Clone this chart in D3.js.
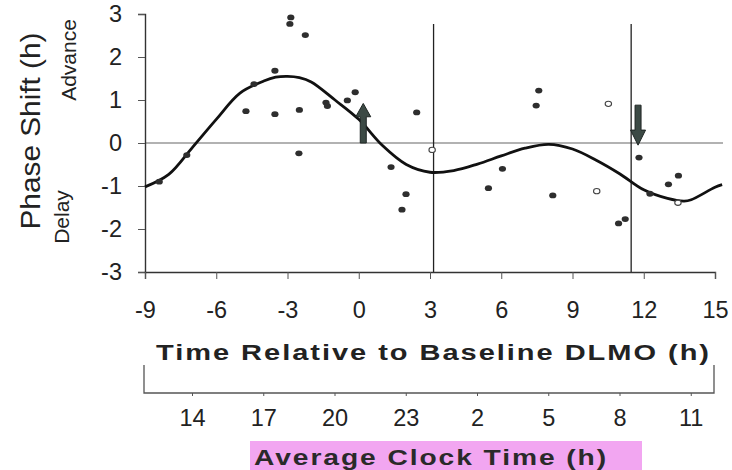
<!DOCTYPE html>
<html>
<head>
<meta charset="utf-8">
<script src="https://cdn.jsdelivr.net/npm/d3@7/dist/d3.min.js"></script>
<style>
  body { margin: 0; background: #fff; }
  svg { display: block; font-family: "Liberation Sans", Arial, sans-serif; }
</style>
</head>
<body>
<div id="chart"></div>
<script>
// data
const filledPts = [
  [-8.40, -0.90], [-7.24, -0.28], [-4.75, 0.74], [-4.41, 1.37], [-3.53, 1.68],
  [-3.53, 0.67], [-2.86, 2.92], [-2.90, 2.77], [-2.25, 2.51], [-2.50, 0.77],
  [-2.52, -0.24], [-1.38, 0.94], [-1.32, 0.86], [-0.48, 0.99], [-0.15, 1.18],
  [1.36, -0.56], [1.82, -1.55], [1.99, -1.19], [2.44, 0.71], [5.46, -1.05],
  [6.05, -0.60], [7.47, 0.87], [7.58, 1.22], [8.17, -1.22], [10.94, -1.87],
  [11.22, -1.77], [11.80, -0.34], [12.26, -1.18], [13.04, -0.96], [13.46, -0.76]
]
const openPts = [[3.09, -0.16], [10.02, -1.12], [10.51, 0.91], [13.44, -1.39]]

const curveX = [-9, -8, -7, -6, -5, -4, -3.5, -3, -2.5, -2, -1, 0, 1, 2, 3, 4, 5, 6, 7, 8, 9, 10, 11, 12, 13, 13.7, 14, 15, 15.3]
const curveY = [-1.02, -0.73, -0.10, 0.55, 1.16, 1.44, 1.53, 1.55, 1.52, 1.42, 1.00, 0.55, -0.06, -0.50, -0.68, -0.64,
  -0.49, -0.30, -0.12, -0.03, -0.14, -0.40, -0.72, -1.09, -1.29, -1.35, -1.32, -1.03, -0.97]

const xTicks = [-9, -6, -3, 0, 3, 6, 9, 12, 15]
const yTicks = [-3, -2, -1, 0, 1, 2, 3]
const clockRel = [-7, -4, -1, 2, 5, 8, 11, 14]
const clockLabels = [14, 17, 20, 23, 2, 5, 8, 11]
const markerLines = [3.15, 11.47]
// arrows: [x, tail y, head base y, tip y]
const arrows = [[0.19, 0, 0.61, 0.92], [11.76, 0.88, 0.30, -0.05]]

const W = 732, H = 470
const FONT = '"Liberation Sans", Arial, sans-serif'

const svg = d3.select('#chart').append('svg')
  .attr('width', W)
  .attr('height', H)

const x = d3.scaleLinear().domain([-9, 15]).range([145, 715])
const y = d3.scaleLinear().domain([-3, 3]).range([272, 14])

// zero line
svg.append('line')
  .attr('x1', x(-9)).attr('x2', 723)
  .attr('y1', y(0)).attr('y2', y(0))
  .attr('stroke', '#999').attr('stroke-width', 1.4)

// vertical marker lines
markerLines.forEach(v => {
  svg.append('line')
    .attr('x1', x(v)).attr('x2', x(v))
    .attr('y1', 24).attr('y2', y(-3))
    .attr('stroke', '#222').attr('stroke-width', 1.3)
})

// y axis
const yAxis = svg.append('g')
  .attr('transform', `translate(${x(-9)},0)`)
  .call(d3.axisLeft(y).tickValues(yTicks).tickSize(7).tickPadding(16).tickFormat(d => String(d)))
yAxis.select('.domain').attr('stroke', '#333').attr('stroke-width', 1.4)
yAxis.selectAll('.tick line').attr('stroke', '#555')
yAxis.selectAll('.tick text')
  .attr('font-size', 23.5).attr('fill', '#222')
  .attr('font-family', FONT)

// x axis
const xAxis = svg.append('g')
  .attr('transform', `translate(0,${y(-3)})`)
  .call(d3.axisBottom(x).tickValues(xTicks).tickSize(7).tickPadding(22).tickFormat(d => String(d)))
xAxis.select('.domain').attr('stroke', '#333').attr('stroke-width', 1.4)
xAxis.selectAll('.tick line').attr('stroke', '#555')
xAxis.selectAll('.tick text')
  .attr('font-size', 23.5).attr('fill', '#222')
  .attr('font-family', FONT)

// fitted curve
const line = d3.line()
  .x((d, i) => x(curveX[i]))
  .y(d => y(d))
  .curve(d3.curveCatmullRom.alpha(0.5))

svg.append('path')
  .datum(curveY)
  .attr('d', line)
  .attr('fill', 'none')
  .attr('stroke', '#111')
  .attr('stroke-width', 2.8)

// data points
svg.selectAll('.dot')
  .data(filledPts)
  .enter()
  .append('ellipse')
  .attr('class', 'dot')
  .attr('cx', d => x(d[0]))
  .attr('cy', d => y(d[1]))
  .attr('rx', 3.6).attr('ry', 2.9)
  .attr('fill', '#2e2e2e')

svg.selectAll('.open')
  .data(openPts)
  .enter()
  .append('ellipse')
  .attr('class', 'open')
  .attr('cx', d => x(d[0]))
  .attr('cy', d => y(d[1]))
  .attr('rx', 3.2).attr('ry', 2.6)
  .attr('fill', '#fff')
  .attr('stroke', '#444').attr('stroke-width', 1.1)

// arrows
arrows.forEach(a => {
  const cx = x(a[0])
  const sw = 3, hw = 7.5
  const pts = [
    [cx - sw, y(a[1])], [cx - sw, y(a[2])], [cx - hw, y(a[2])], [cx, y(a[3])],
    [cx + hw, y(a[2])], [cx + sw, y(a[2])], [cx + sw, y(a[1])]
  ]
  svg.append('path')
    .attr('d', d3.line()(pts) + 'Z')
    .attr('fill', '#3c4a45')
    .attr('stroke', '#1f2624').attr('stroke-width', 1)
})

// y labels
svg.append('text')
  .attr('transform', 'translate(40,131) rotate(-90)')
  .attr('text-anchor', 'middle')
  .attr('font-size', 27)
  .attr('fill', '#222')
  .attr('textLength', 197)
  .attr('lengthAdjust', 'spacingAndGlyphs')
  .text('Phase Shift (h)')

svg.append('text')
  .attr('transform', 'translate(76,60) rotate(-90)')
  .attr('text-anchor', 'middle')
  .attr('font-size', 21)
  .attr('fill', '#222')
  .text('Advance')

svg.append('text')
  .attr('transform', 'translate(69,217) rotate(-90)')
  .attr('text-anchor', 'middle')
  .attr('font-size', 21)
  .attr('fill', '#222')
  .text('Delay')

// x title (wide, bold face like the original)
svg.append('text')
  .attr('x', 156).attr('y', 360)
  .attr('font-size', 22).attr('font-weight', 'bold')
  .attr('letter-spacing', 1.5)
  .attr('fill', '#222')
  .attr('textLength', 555)
  .attr('lengthAdjust', 'spacingAndGlyphs')
  .text('Time Relative to Baseline DLMO (h)')

// clock time bracket axis
const bracket = svg.append('g')
svg.append('path')
  .attr('d', `M${x(-9) - 1},365 V393 H${x(15) - 1} V365`)
  .attr('fill', 'none')
  .attr('stroke', '#555').attr('stroke-width', 1.3)

bracket.selectAll('line')
  .data(clockRel)
  .enter()
  .append('line')
  .attr('x1', d => x(d)).attr('x2', d => x(d))
  .attr('y1', 393).attr('y2', 396)
  .attr('stroke', '#555')

bracket.selectAll('text')
  .data(clockLabels)
  .enter()
  .append('text')
  .attr('x', (d, i) => x(clockRel[i]))
  .attr('y', 426)
  .attr('text-anchor', 'middle')
  .attr('font-size', 23.5)
  .attr('fill', '#222')
  .text(d => d)

// highlighted clock title
svg.append('rect')
  .attr('x', 250).attr('y', 441)
  .attr('width', 392).attr('height', 29)
  .attr('fill', '#f096ee')
  .attr('opacity', 0.85)

svg.append('text')
  .attr('x', 254).attr('y', 465)
  .attr('font-size', 22).attr('font-weight', 'bold')
  .attr('letter-spacing', 1.5)
  .attr('fill', '#2a2a2a')
  .attr('textLength', 354)
  .attr('lengthAdjust', 'spacingAndGlyphs')
  .text('Average Clock Time (h)')
</script>
</body>
</html>
